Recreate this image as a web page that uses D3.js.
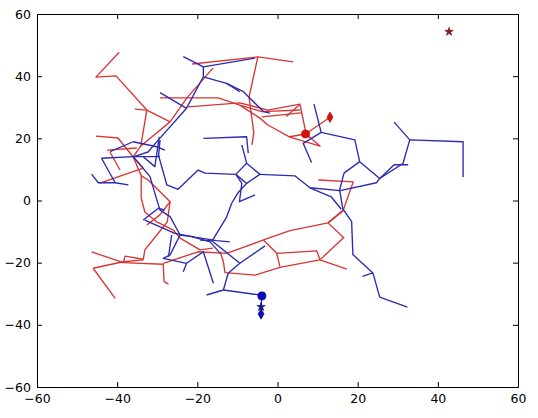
<!DOCTYPE html>
<html>
<head>
<meta charset="utf-8">
<script src="https://cdn.jsdelivr.net/npm/d3@7"></script>
<style>
  body { margin: 0; background: #fff; }
  svg { display: block; }
  .axis text { font-family: "DejaVu Sans", sans-serif; font-size: 12.5px; fill: #000; }
  .axis path, .axis line { stroke: #000; }
</style>
</head>
<body>
<div id="chart-area"></div>
<script>
const MARGIN = { LEFT: 37, RIGHT: 20, TOP: 14, BOTTOM: 31 }
const WIDTH = 538 - MARGIN.LEFT - MARGIN.RIGHT
const HEIGHT = 418 - MARGIN.TOP - MARGIN.BOTTOM

// tick values
const xTicks = [-60, -40, -20, 0, 20, 40, 60]
const yTicks = [-60, -40, -20, 0, 20, 40, 60]

// red tree branches (x, y)
const redPaths = [
  [[-39.5, 47.7], [-45.3, 39.7], [-40.3, 40.1], [-32.6, 29.1], [-26.8, 25.3]],
  [[-35.6, 29.4], [-32.6, 29.1]],
  [[-32.6, 29.1], [-34.1, 17.6], [-36.0, 14.0]],
  [[-16.1, 42.6], [-22.6, 33.0], [-26.8, 25.3], [-34.1, 17.5]],
  [[-21.3, 43.9], [-4.9, 46.2], [3.9, 44.6]],
  [[-4.9, 46.2], [-7.1, 33.3], [-5.9, 21.7], [-6.4, 17.9]],
  [[-29.3, 33.0], [-14.8, 33.0], [-9.4, 30.7], [-3.9, 28.6], [5.6, 29.1]],
  [[-22.3, 30.1], [-9.4, 31.4], [-2.4, 29.1], [5.6, 31.0], [7.1, 21.7]],
  [[-3.9, 26.9], [5.9, 28.2]],
  [[2.2, 27.0], [5.6, 31.0]],
  [[-9.4, 30.7], [-4.4, 26.5], [-2.4, 24.3], [3.1, 20.4], [10.6, 17.5], [7.1, 21.4]],
  [[3.0, 20.5], [7.0, 21.4], [13.1, 26.8]],
  [[-45.3, 20.7], [-39.8, 20.1], [-36.0, 14.0]],
  [[-42.5, 16.2], [-35.1, 16.9]],
  [[-41.8, 15.6], [-39.3, 9.8]],
  [[-44.3, 5.6], [-33.5, 10.4], [-36.0, 14.0]],
  [[-36.0, 14.0], [-34.0, 8.0], [-32.2, 6.5], [-26.8, -0.4], [-29.4, -4.7], [-32.6, -7.9]],
  [[-34.0, 7.9], [-34.0, 0.8], [-33.1, -3.7], [-30.1, -6.9], [-26.0, -9.5], [-24.3, -12.1], [-19.3, -15.9], [-16.1, -15.3]],
  [[-26.8, -0.4], [-27.5, -6.9], [-30.1, -11.1], [-33.1, -15.9], [-33.5, -19.1]],
  [[-46.4, -16.5], [-38.5, -20.0]],
  [[-46.0, -21.8], [-38.5, -19.7], [-33.5, -19.1]],
  [[-46.0, -21.8], [-40.5, -31.5]],
  [[-38.5, -20.0], [-38.0, -17.9], [-33.5, -18.9]],
  [[-38.5, -20.0], [-28.5, -20.5], [-28.3, -26.1], [-27.2, -26.9]],
  [[-28.5, -20.2], [-19.8, -16.5], [-12.7, -17.0], [-3.5, -12.7], [3.1, -9.7], [12.6, -7.2], [16.4, -3.3]],
  [[-14.3, -16.5], [-13.5, -19.7], [-13.1, -23.2], [-5.6, -24.0], [0.6, -21.5], [10.6, -19.1], [16.6, -11.8]],
  [[-3.5, -12.7], [-0.2, -17.0], [0.6, -21.3]],
  [[-0.2, -17.0], [9.8, -16.2], [10.6, -19.1]],
  [[10.6, -19.1], [17.3, -22.1]],
  [[12.6, -7.2], [16.6, -12.1]],
  [[10.2, 6.6], [18.9, 6.0], [16.4, -3.1], [12.6, -7.2]]
]

// blue tree branches (x, y)
const bluePaths = [
  [[-23.5, 46.3], [-18.5, 43.0], [-5.6, 45.8]],
  [[-18.5, 43.0], [-18.5, 39.8], [-22.7, 29.7], [-29.7, 19.5], [-32.3, 15.6], [-36.0, 14.0]],
  [[-18.5, 39.8], [-12.7, 37.7], [-8.5, 35.0], [-3.5, 28.6], [-1.9, 28.1]],
  [[-12.7, 37.7], [-9.4, 35.0]],
  [[-29.3, 34.7], [-22.8, 29.7]],
  [[-18.5, 20.0], [-7.7, 20.5], [-7.3, 15.3]],
  [[-8.9, 17.9], [-7.7, 12.0]],
  [[-10.4, 8.4], [-7.7, 12.0], [-4.4, 8.4], [-7.7, 5.5], [-10.4, 8.4]],
  [[-29.7, 14.6], [-27.6, 5.0], [-24.8, 3.6], [-19.8, 9.8], [-18.1, 8.8], [-10.4, 8.4]],
  [[-4.4, 8.4], [4.4, 7.9], [8.1, 4.1], [15.6, 3.2], [24.7, 5.7], [25.5, 7.1]],
  [[-10.4, 8.4], [-8.9, 5.5], [-9.5, -0.4], [-5.6, 1.8]],
  [[-7.7, 5.5], [-9.9, 2.4], [-11.4, -0.8], [-12.8, -5.6], [-16.3, -13.0], [-19.3, -12.7]],
  [[-16.3, -13.0], [-9.4, -20.2], [-3.1, -14.6]],
  [[-9.4, -20.2], [-12.3, -23.4], [-13.5, -28.8], [-17.7, -30.4]],
  [[-13.5, -28.8], [-4.4, -30.4], [-3.9, -30.7]],
  [[-3.9, -30.7], [-4.1, -34.2], [-4.1, -36.5]],
  [[9.1, 31.0], [10.9, 21.9], [19.3, 19.5], [20.5, 12.5], [25.5, 7.1], [31.3, 11.9], [33.0, 19.5], [46.3, 18.9], [46.3, 7.6]],
  [[33.0, 19.5], [29.1, 25.2]],
  [[10.9, 21.9], [6.4, 18.4], [8.5, 12.2]],
  [[25.5, 7.1], [29.1, 11.5], [32.6, 11.5]],
  [[20.5, 12.5], [16.6, 8.8], [15.5, 3.4], [16.3, -2.7], [18.5, -6.8], [18.8, -17.4], [23.8, -23.3], [25.5, -31.1], [32.4, -34.3]],
  [[23.8, -23.3], [21.2, -24.4]],
  [[8.1, 4.1], [13.4, 1.2], [15.9, -2.8]],
  [[-46.4, 8.5], [-44.7, 5.7], [-40.5, 5.7], [-37.2, 5.0]],
  [[-43.9, 13.6], [-40.5, 5.7]],
  [[-43.9, 13.6], [-36.0, 14.1], [-29.3, 14.1]],
  [[-41.8, 15.7], [-36.0, 18.9], [-30.1, 17.3], [-28.1, 16.2]],
  [[-33.5, 14.1], [-30.6, 10.9], [-29.5, 20.5]],
  [[-29.3, 19.5], [-29.7, 14.1]],
  [[-36.0, 14.1], [-31.8, 7.7], [-30.1, 0.2], [-29.3, -3.1], [-26.8, -5.2], [-24.3, -11.1], [-21.4, -11.6], [-16.8, -13.3], [-14.3, -17.0]],
  [[-33.5, -6.3], [-29.7, -2.5], [-28.1, -3.1]],
  [[-33.1, -6.3], [-25.6, -10.6], [-20.6, -11.8], [-15.2, -12.9], [-11.9, -13.3]],
  [[-26.4, -11.1], [-27.2, -18.1]],
  [[-24.3, -11.1], [-26.8, -17.5], [-28.5, -18.6], [-22.7, -20.2], [-23.5, -22.9]],
  [[-22.7, -20.2], [-18.5, -16.5], [-16.0, -26.6]]
]

// start / end / goal markers
const redMarkers = [
  { x: 7.0, y: 21.4, shape: "circle" },
  { x: 13.1, y: 26.8, shape: "diamond" },
  { x: 42.8, y: 54.3, shape: "star" }
]
const blueMarkers = [
  { x: -3.9, y: -30.7, shape: "circle" },
  { x: -4.1, y: -34.2, shape: "star" },
  { x: -4.1, y: -36.5, shape: "diamond" }
]

const svg = d3.select("#chart-area").append("svg")
  .attr("width", WIDTH + MARGIN.LEFT + MARGIN.RIGHT)
  .attr("height", HEIGHT + MARGIN.TOP + MARGIN.BOTTOM)

const g = svg.append("g")
  .attr("transform", `translate(${MARGIN.LEFT}, ${MARGIN.TOP})`)

// scales
const x = d3.scaleLinear().domain([-60, 60]).range([0, WIDTH])
const y = d3.scaleLinear().domain([-60, 60]).range([HEIGHT, 0])

const line = d3.line()
  .x(d => x(d[0]))
  .y(d => y(d[1]))

// branches
g.append("g").selectAll("path")
  .data(redPaths)
  .enter().append("path")
  .attr("d", line)
  .attr("fill", "none")
  .attr("stroke", "#d83535")
  .attr("stroke-width", 1.35)
  .attr("stroke-linejoin", "round")

g.append("g").selectAll("path")
  .data(bluePaths)
  .enter().append("path")
  .attr("d", line)
  .attr("fill", "none")
  .attr("stroke", "#2a2ab2")
  .attr("stroke-width", 1.35)
  .attr("stroke-linejoin", "round")

// markers
const symbolFor = (shape) => {
  switch (shape) {
    case "circle": return d3.symbol().type(d3.symbolCircle).size(52)()
    case "diamond": return d3.symbol().type(d3.symbolDiamond).size(32)()
    case "star": return d3.symbol().type(d3.symbolStar).size(22)()
  }
}

g.append("g").selectAll("path")
  .data(redMarkers)
  .enter().append("path")
  .attr("transform", d => `translate(${x(d.x)}, ${y(d.y)})`)
  .attr("d", d => symbolFor(d.shape))
  .attr("fill", d => d.shape === "star" ? "#8e1f1f" : "#d40f0f")
  .attr("stroke", d => d.shape === "star" ? "#5a1010" : "#b00000")
  .attr("stroke-width", 0.6)

g.append("g").selectAll("path")
  .data(blueMarkers)
  .enter().append("path")
  .attr("transform", d => `translate(${x(d.x)}, ${y(d.y)})`)
  .attr("d", d => symbolFor(d.shape))
  .attr("fill", d => d.shape === "star" ? "#1a1a6e" : "#0a0ac0")
  .attr("stroke", "#00008a")
  .attr("stroke-width", 0.6)

// axes, ticks pointing inward on all four sides
const xAxisCall = d3.axisBottom(x).tickValues(xTicks).tickSize(-5).tickPadding(7)
  .tickFormat(d => d3.format("d")(d).replace("-", "\u2212"))
const yAxisCall = d3.axisLeft(y).tickValues(yTicks).tickSize(-5).tickPadding(6)
  .tickFormat(d => d3.format("d")(d).replace("-", "\u2212"))

g.append("g")
  .attr("class", "x axis")
  .attr("transform", `translate(0, ${HEIGHT})`)
  .call(xAxisCall)
g.append("g")
  .attr("class", "y axis")
  .call(yAxisCall)
g.append("g")
  .attr("class", "axis")
  .call(d3.axisTop(x).tickValues(xTicks).tickSize(-5).tickFormat(""))
g.append("g")
  .attr("class", "axis")
  .attr("transform", `translate(${WIDTH}, 0)`)
  .call(d3.axisRight(y).tickValues(yTicks).tickSize(-5).tickFormat(""))

g.selectAll(".domain").attr("stroke-width", 1)
</script>
</body>
</html>
